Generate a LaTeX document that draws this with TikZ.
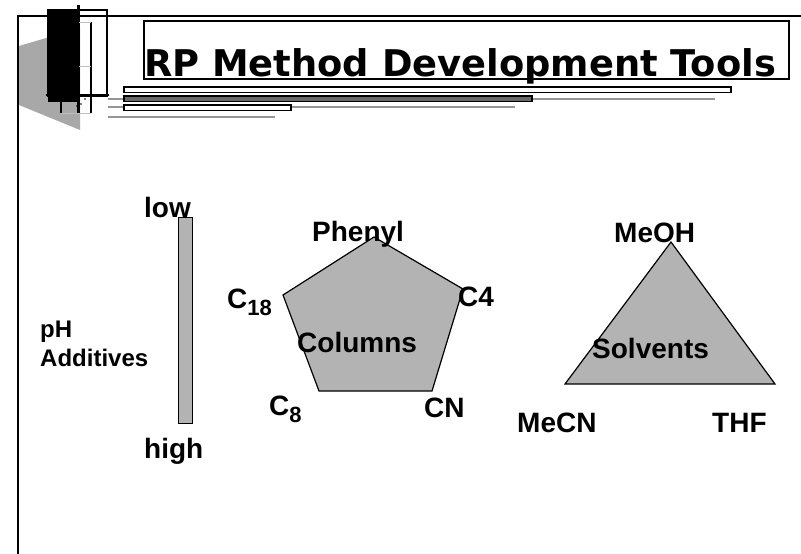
\documentclass[tikz,border=0pt]{standalone}
\usepackage{fontspec}
\setmainfont{Liberation Sans}
\newfontfamily\titlefont{DejaVu Sans}
\definecolor{shade}{RGB}{179,179,179}
\definecolor{deco}{RGB}{168,168,168}
\definecolor{rule}{RGB}{150,150,150}
\begin{document}
\begin{tikzpicture}[x=1pt,y=-1pt,
  lbl/.style={anchor=base west,inner sep=0pt,font=\fontsize{28}{32}\selectfont\bfseries},
  small/.style={anchor=base west,inner sep=0pt,font=\fontsize{24}{28}\selectfont\bfseries},
  bar/.style={draw=black,line width=1.5pt},
  grayline/.style={draw=rule,line width=1.5pt},
  solid shape/.style={draw=black,fill=shade,line width=1.2pt}]
\useasboundingbox (0,0) rectangle (801,554);
% decoration top left
\fill[deco] (19,46) -- (80,28) -- (80,130) -- (19,105) -- cycle;
\draw[black,line width=2pt] (801,16) -- (18,16) -- (18,554);
\fill[black] (48,10) rectangle (79,102);
\draw[black,line width=1.5pt] (48,10) rectangle (107,96);
\draw[black,line width=3pt] (78,5) -- (78,113);
\draw[black,line width=2.5pt] (91,22) -- (91,113);
\draw[rule!60,line width=1pt] (79,22) -- (91,22);
\draw[rule!60,line width=1pt] (79,66) -- (91,66);
\draw[rule!60,line width=1pt] (61,113) -- (91,113);
\draw[black,line width=2pt] (46,95) -- (109,95);
\draw[black,line width=2.5pt] (61,95) -- (61,113);
\fill[black] (74,100) circle (0.9) (81,104) circle (0.9) (85,99) circle (0.9) (77,106) circle (0.8);
% title
\draw[black,line width=2pt] (144,21) rectangle (789,79);
\node[anchor=base west,inner sep=0pt,font=\titlefont\fontsize{36.8}{40}\selectfont\bfseries] (title) at (144,76) {RP Method Development Tools};
\draw[black,line width=2pt] (title.base west |- 0,79) -- (title.base east |- 0,79);
% bars under title
\draw[grayline] (108,99) -- (715,99);
\draw[grayline] (108,107) -- (515,107);
\draw[grayline] (108,117) -- (275,117);
\draw[bar,fill=white] (124,87) rectangle (731,92.5);
\draw[bar,fill=rule!70!black] (124,96) rectangle (532,101.5);
\draw[bar,fill=white] (124,105) rectangle (291,110.5);
% pH bar
\draw[solid shape,line width=1pt] (178,217) rectangle (192,423);
\node[lbl] (low) at (144,217) {low};
\node[lbl] (high) at (144,458) {high};
\node[small] (ph) at (40,337) {pH};
\node[small] (add) at (40,366) {Additives};
% pentagon
\coordinate (pt) at (374,237);
\coordinate (pr) at (463,289);
\coordinate (pbr) at (432,391);
\coordinate (pbl) at (319,391);
\coordinate (pl) at (283,295);
\draw[solid shape] (pt) -- (pr) -- (pbr) -- (pbl) -- (pl) -- cycle;
\node[lbl] (phenyl) at (312,241) {Phenyl};
\node[lbl] (c18) at (227,308) {C\raisebox{-7pt}{\fontsize{22}{24}\selectfont 18}};
\node[lbl] (c4) at (458,306) {C4};
\node[lbl] (columns) at (297,352) {Columns};
\node[lbl] (c8) at (269,415) {C\raisebox{-7pt}{\fontsize{22}{24}\selectfont 8}};
\node[lbl] (cn) at (424,417) {CN};
% triangle
\coordinate (tt) at (671,242);
\coordinate (tl) at (565,384);
\coordinate (tr) at (775,384);
\draw[solid shape] (tt) -- (tr) -- (tl) -- cycle;
\node[lbl] (meoh) at (614,242) {MeOH};
\node[lbl] (solv) at (592,358) {Solvents};
\node[lbl] (mecn) at (517,432) {MeCN};
\node[lbl] (thf) at (712,432) {THF};
\end{tikzpicture}
\end{document}
